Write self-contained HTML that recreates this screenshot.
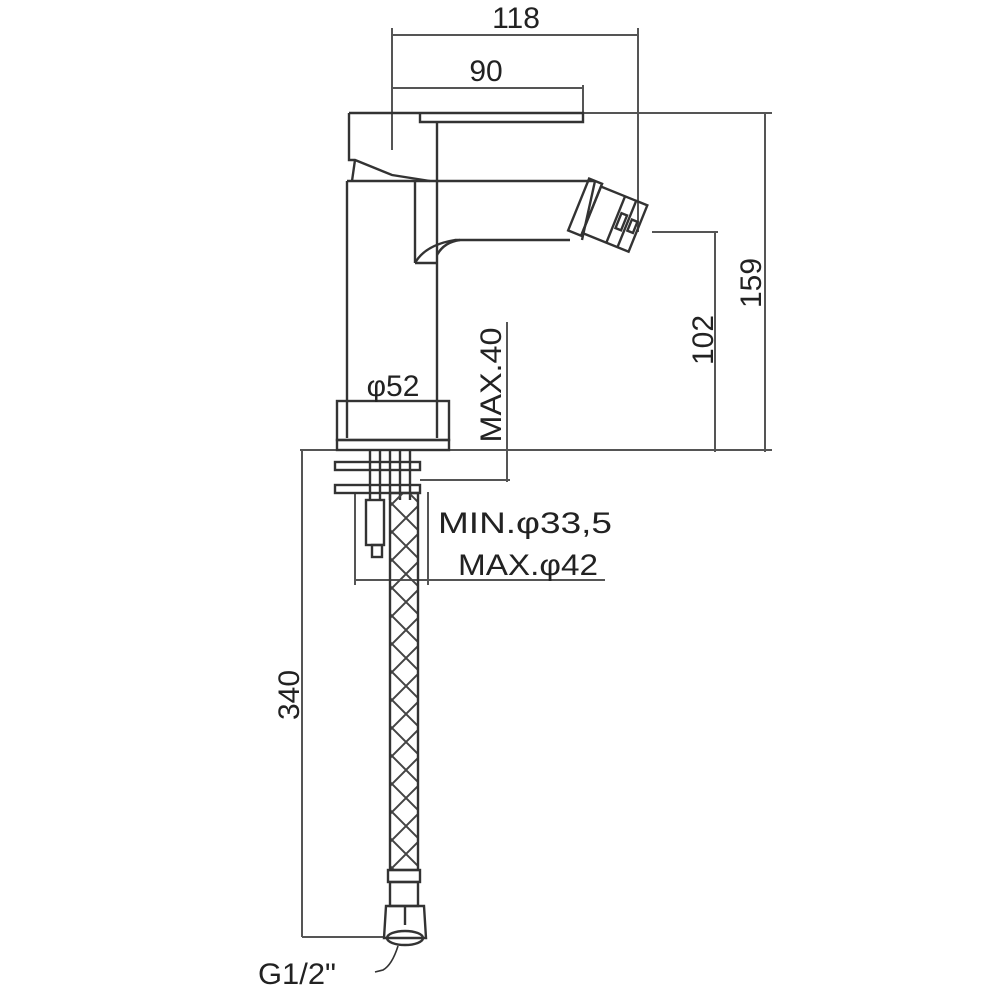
<!DOCTYPE html>
<html><head><meta charset="utf-8"><style>
html,body{margin:0;padding:0;background:#fff;}
svg{display:block;}
text{font-family:"Liberation Sans",sans-serif;fill:#222;}
</style></head><body>
<svg width="1000" height="1000" viewBox="0 0 1000 1000" xmlns="http://www.w3.org/2000/svg">
<defs>
<pattern id="hx" width="28" height="28" patternUnits="userSpaceOnUse">
<path d="M0 0L28 28M28 0L0 28" stroke="#444" stroke-width="2" fill="none"/>
</pattern>
</defs>
<g stroke="#555" stroke-width="2" fill="none">
<line x1="392" y1="35" x2="638" y2="35"/>
<line x1="392" y1="28" x2="392" y2="150"/>
<line x1="638" y1="28" x2="638" y2="232"/>
<line x1="392" y1="88" x2="583" y2="88"/>
<line x1="583" y1="85" x2="583" y2="118"/>
<line x1="583" y1="113" x2="772" y2="113"/>
<line x1="765" y1="113" x2="765" y2="452"/>
<line x1="652" y1="232" x2="718" y2="232"/>
<line x1="715" y1="232" x2="715" y2="452"/>
<line x1="300" y1="450" x2="772" y2="450"/>
<line x1="507" y1="322" x2="507" y2="482"/>
<line x1="420" y1="480" x2="510" y2="480"/>
<line x1="302" y1="450" x2="302" y2="937"/>
<line x1="302" y1="937" x2="385" y2="937"/>
<line x1="355" y1="580" x2="605" y2="580"/>
<line x1="355" y1="492" x2="355" y2="585"/>
<line x1="428" y1="492" x2="428" y2="585"/>
</g>
<g stroke="#333" stroke-width="2.4" fill="none">
<path d="M349 113 L583 113 L583 122 L420 122 L420 113"/>
<path d="M349 113 L349 160 L355 160 L392 175 L430 181"/>
<line x1="355" y1="160" x2="352" y2="181"/>
<line x1="437" y1="122" x2="437" y2="181"/>
<line x1="347" y1="181" x2="595" y2="181"/>
<line x1="347" y1="181" x2="347" y2="438"/>
<line x1="437" y1="181" x2="437" y2="438"/>
<line x1="415" y1="181" x2="415" y2="263"/>
<path d="M415 263 Q425 245 455 240 L570 240"/>
<line x1="415" y1="263" x2="437" y2="263"/>
<path d="M437 255 Q444 242 460 240"/>
<g transform="translate(612,218) rotate(22)">
<rect x="-36" y="-28" width="14" height="56"/>
<rect x="-22" y="-25" width="50" height="50"/>
<line x1="4" y1="-25" x2="4" y2="25"/>
<line x1="16" y1="-25" x2="16" y2="25"/>
<rect x="7" y="-8" width="6" height="16"/>
<rect x="19" y="-6" width="6" height="12"/>
</g>
<line x1="595" y1="181" x2="582" y2="240"/>
<rect x="337" y="401" width="112" height="39"/>
<rect x="337" y="440" width="112" height="10"/>
<rect x="335" y="462" width="85" height="8"/>
<rect x="335" y="485" width="85" height="8"/>
<line x1="370" y1="450" x2="370" y2="500"/>
<line x1="380" y1="450" x2="380" y2="500"/>
<line x1="390" y1="450" x2="390" y2="500"/>
<line x1="400" y1="450" x2="400" y2="500"/>
<line x1="410" y1="450" x2="410" y2="500"/>
<rect x="366" y="500" width="18" height="45"/>
<rect x="372" y="545" width="10" height="12"/>
<rect x="390" y="493" width="28" height="377" fill="url(#hx)"/>
<rect x="388" y="870" width="32" height="12"/>
<rect x="390" y="882" width="28" height="24"/>
<path d="M386 906 L424 906 L426 938 L384 938 Z"/>
<line x1="405" y1="906" x2="405" y2="925"/>
<ellipse cx="405" cy="938" rx="18" ry="7"/>
<path d="M398 946 Q392 965 383 970 L375 972" stroke-width="1.6"/>
</g>
<g font-size="30">
<text x="516" y="28" text-anchor="middle">118</text>
<text x="486" y="81" text-anchor="middle">90</text>
<text x="393" y="396" text-anchor="middle">φ52</text>
<text x="438" y="533" textLength="174" lengthAdjust="spacingAndGlyphs">MIN.φ33,5</text>
<text x="458" y="575" textLength="140" lengthAdjust="spacingAndGlyphs">MAX.φ42</text>
<text x="258" y="984" textLength="78" lengthAdjust="spacingAndGlyphs">G1/2"</text>
<text transform="translate(761,283) rotate(-90)" text-anchor="middle">159</text>
<text transform="translate(713,340) rotate(-90)" text-anchor="middle">102</text>
<text transform="translate(501,385) rotate(-90)" text-anchor="middle" textLength="115" lengthAdjust="spacingAndGlyphs">MAX.40</text>
<text transform="translate(299,695) rotate(-90)" text-anchor="middle">340</text>
</g>
</svg>
</body></html>
